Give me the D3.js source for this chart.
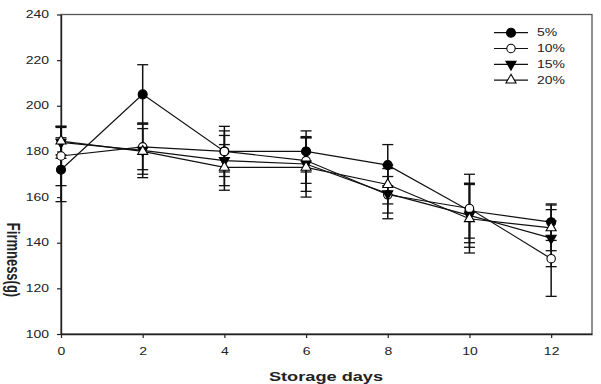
<!DOCTYPE html>
<html>
<head>
<meta charset="utf-8">
<script src="https://cdn.jsdelivr.net/npm/d3@7"></script>
<style>
  body { margin: 0; background: #fff; }
  text { font-family: Arial, "Liberation Sans", sans-serif; fill: #222; }
</style>
</head>
<body>
<div id="chart"></div>
<script>
// storage days and firmness means / errors
const days = [0, 2, 4, 6, 8, 10, 12];
const yTicks = [100, 120, 140, 160, 180, 200, 220, 240];
const xTicks = [0, 2, 4, 6, 8, 10, 12];

const firm5 = [172, 205, 180, 180, 174, 154, 149];
const firm10 = [178, 182, 180, 176, 161, 155, 133];
const firm15 = [184, 180.5, 176, 174.5, 161.5, 152, 142];
const firm20 = [184.5, 180, 173, 173, 165.5, 150.5, 146.5];

const err5 = [14, 13, 11, 9, 9, 12, 8];
const err10 = [13, 10, 9, 10, 8, 15, 16.5];
const err15 = [7, 12, 11, 12, 11, 14, 12.5];
const err20 = [6, 10, 10, 13, 8.5, 15, 10];

const seriesNames = ["5%", "10%", "15%", "20%"];
const markers = ["dot", "circle", "down", "up"];

const series = seriesNames.map((name, i) => ({
    name: name,
    marker: markers[i],
    values: days.map((d, j) => ({
        day: d,
        v: [firm5, firm10, firm15, firm20][i][j],
        e: [err5, err10, err15, err20][i][j]
    }))
}));

const W = 601, H = 384;
const margin = {top: 14.5, right: 9, bottom: 50, left: 61};
const sx = 1.4; // the original figure is stretched horizontally

const svg = d3.select("#chart").append("svg")
    .attr("width", W)
    .attr("height", H);

const x = d3.scaleLinear().domain([0, 13]).range([margin.left, W - margin.right]);
const y = d3.scaleLinear().domain([100, 240]).range([H - margin.bottom, margin.top]);

// frame
svg.append("rect")
    .attr("x", x(0)).attr("y", y(240))
    .attr("width", x(13) - x(0)).attr("height", y(100) - y(240))
    .attr("fill", "none").attr("stroke", "#555").attr("stroke-width", 1.3);

// axes
let yAxis = svg.append("g")
    .attr("transform", "translate(" + x(0) + ",0)")
    .call(d3.axisLeft(y).tickValues(yTicks).tickSize(4).tickSizeOuter(0));
yAxis.select(".domain").attr("stroke", "#222").attr("stroke-width", 1.4);
yAxis.selectAll(".tick line").attr("stroke", "#222").attr("stroke-width", 1.2);
yAxis.selectAll(".tick text")
    .attr("x", -12 / sx)
    .attr("transform", "scale(" + sx + ",1)")
    .style("font-size", "10px")
    .style("fill", "#222");

let xAxis = svg.append("g")
    .attr("transform", "translate(0," + y(100) + ")")
    .call(d3.axisBottom(x).tickValues(xTicks).tickSize(4).tickSizeOuter(0));
xAxis.select(".domain").attr("stroke", "#222").attr("stroke-width", 1.4);
xAxis.selectAll(".tick line").attr("stroke", "#222").attr("stroke-width", 1.2);
xAxis.selectAll(".tick text")
    .attr("y", 14)
    .attr("transform", "scale(" + sx + ",1)")
    .style("font-size", "10px")
    .style("fill", "#222");

// axis titles
svg.append("text")
    .attr("transform", "translate(326,381) scale(" + sx + ",1)")
    .attr("text-anchor", "middle")
    .style("font-size", "13px")
    .style("font-weight", "bold")
    .text("Storage days");

svg.append("text")
    .attr("transform", "translate(7,260) scale(" + sx + ",1) rotate(90)")
    .attr("text-anchor", "middle")
    .style("font-size", "13px")
    .style("font-weight", "bold")
    .text("Firmness(g)");

// marker drawing
const triUp = d3.symbol().type(d3.symbolTriangle).size(44);
function drawMarker(sel, type) {
    if (type === "dot" || type === "circle") {
        sel.append("circle")
            .attr("r", type === "dot" ? 4.5 : 4.2)
            .attr("fill", type === "dot" ? "#000" : "#fff")
            .attr("stroke", "#000")
            .attr("stroke-width", 1.1);
    } else {
        sel.append("path")
            .attr("d", triUp())
            .attr("transform", type === "down" ? "rotate(180)" : null)
            .attr("fill", type === "down" ? "#000" : "#fff")
            .attr("stroke", "#000")
            .attr("stroke-width", 1.1);
    }
}

const line = d3.line()
    .x(d => x(d.day))
    .y(d => y(d.v));

// error bars first
series.forEach(s => {
    let g = svg.append("g");
    s.values.forEach(d => {
        let cx = x(d.day);
        g.append("line")
            .attr("x1", cx).attr("x2", cx)
            .attr("y1", y(d.v - d.e)).attr("y2", y(d.v + d.e))
            .attr("stroke", "#111").attr("stroke-width", 1.5);
        [d.v - d.e, d.v + d.e].forEach(c => {
            g.append("line")
                .attr("x1", cx - 5.5).attr("x2", cx + 5.5)
                .attr("y1", y(c)).attr("y2", y(c))
                .attr("stroke", "#111").attr("stroke-width", 1.3);
        });
    });
});

// lines
series.forEach(s => {
    svg.append("path")
        .datum(s.values)
        .attr("d", line)
        .attr("fill", "none")
        .attr("stroke", "#111")
        .attr("stroke-width", 1.2);
});

// markers
series.forEach(s => {
    s.values.forEach(d => {
        let g = svg.append("g").attr("transform", "translate(" + x(d.day) + "," + y(d.v) + ")");
        drawMarker(g, s.marker);
    });
});

// legend
const legend = svg.append("g");
series.forEach((s, i) => {
    let ly = 32.7 + i * 15.8;
    legend.append("line")
        .attr("x1", 494).attr("x2", 528)
        .attr("y1", ly).attr("y2", ly)
        .attr("stroke", "#111").attr("stroke-width", 1.2);
    let g = legend.append("g").attr("transform", "translate(511," + ly + ")");
    drawMarker(g, s.marker);
    legend.append("text")
        .attr("transform", "translate(537," + (ly + 3.6) + ") scale(" + sx + ",1)")
        .style("font-size", "10px")
        .text(s.name);
});
</script>
</body>
</html>
